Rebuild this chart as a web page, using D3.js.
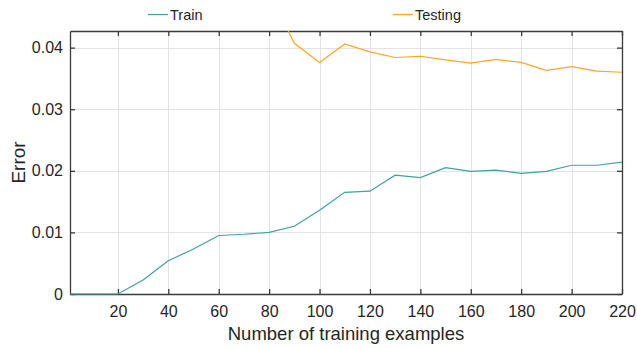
<!DOCTYPE html>
<html><head><meta charset="utf-8">
<script src="https://cdn.jsdelivr.net/npm/d3@7"></script>
<style>body{margin:0;background:#fff}svg{display:block;font-family:"Liberation Sans",Arial,sans-serif}</style>
</head><body><svg id="c" width="637" height="348"></svg>
<script>
const trainX = [1, 10, 20, 30, 40, 50, 60, 70, 80, 90, 100, 110, 120, 130, 140, 150, 160, 170, 180, 190, 200, 210, 220];
const trainY = [0, 0, 0, 0.00227, 0.0054, 0.0073, 0.0095, 0.0097, 0.0100, 0.0110, 0.0136, 0.0165, 0.0167, 0.0193, 0.0189, 0.0205, 0.0199, 0.0201, 0.0196, 0.0199, 0.0209, 0.0209, 0.0214];
const testX = [80, 90, 100, 110, 120, 130, 140, 150, 160, 170, 180, 190, 200, 210, 220];
const testY = [0.0490, 0.0407, 0.0376, 0.0406, 0.0393, 0.0384, 0.0386, 0.0380, 0.0375, 0.0381, 0.0376, 0.0363, 0.0369, 0.0362, 0.0360];
const xTicks = [20, 40, 60, 80, 100, 120, 140, 160, 180, 200, 220];
const yTicks = [0, 0.01, 0.02, 0.03, 0.04];
const seriesNames = ["Train", "Testing"];
const colors = ["#3fa29c", "#ffa51f"];

(function () {
const L = 70, R = 622, T = 31, B = 294;
const svg = d3.select("#c");
const x = d3.scaleLinear().domain([1, 220]).range([L, R]);
const y = d3.scaleLinear().domain([0, 0.0427]).range([B, T]);

// grid
const g = svg.append("g");
g.selectAll(".gx").data(xTicks).join("line")
  .attr("x1", d => Math.round(x(d)) + 0.5).attr("x2", d => Math.round(x(d)) + 0.5)
  .attr("y1", T).attr("y2", B).attr("stroke", "#e3e3e3").attr("stroke-width", 1);
g.selectAll(".gy").data(yTicks).join("line")
  .attr("y1", d => Math.round(y(d)) + 0.5).attr("y2", d => Math.round(y(d)) + 0.5)
  .attr("x1", L).attr("x2", R).attr("stroke", "#e3e3e3").attr("stroke-width", 1);

// axes
const axCol = "#3a3a3a";
const fmtY = d => d === 0 ? "0" : d3.format(".2f")(d);
const axB = svg.append("g").attr("transform", `translate(0,${B})`)
  .call(d3.axisBottom(x).tickValues(xTicks).tickSizeInner(-5).tickSizeOuter(0).tickPadding(12));
const axT = svg.append("g").attr("transform", `translate(0,${T})`)
  .call(d3.axisTop(x).tickValues(xTicks).tickSizeInner(-5).tickSizeOuter(0).tickFormat(""));
const axL = svg.append("g").attr("transform", `translate(${L},0)`)
  .call(d3.axisLeft(y).tickValues(yTicks).tickSizeInner(-5).tickSizeOuter(0).tickPadding(7).tickFormat(fmtY));
const axR = svg.append("g").attr("transform", `translate(${R},0)`)
  .call(d3.axisRight(y).tickValues(yTicks).tickSizeInner(-5).tickSizeOuter(0).tickFormat(""));
[axB, axT, axL, axR].forEach(a => {
  a.selectAll("path").attr("stroke", axCol).attr("stroke-width", 1.3);
  a.selectAll("line").attr("stroke", axCol).attr("stroke-width", 1.3);
  a.selectAll("text").attr("fill", "#262626").attr("font-size", 16)
    .attr("font-family", "'Liberation Sans', Arial, sans-serif");
});

// clip + lines (drawn over axes)
svg.append("clipPath").attr("id", "clip").append("rect")
  .attr("x", L).attr("y", T).attr("width", R - L).attr("height", B - T + 2);

const line = d3.line().x(d => x(d[0])).y(d => y(d[1]));
const trainData = trainX.map((v, i) => [v, trainY[i]]);
const testData = testX.map((v, i) => [v, testY[i]]);
svg.append("path").datum(trainData).attr("d", line).attr("fill", "none")
  .attr("stroke", colors[0]).attr("stroke-width", 1.2).attr("clip-path", "url(#clip)");
svg.append("path").datum(testData).attr("d", line).attr("fill", "none")
  .attr("stroke", colors[1]).attr("stroke-width", 1.2).attr("clip-path", "url(#clip)");

// labels
svg.append("text").attr("x", (L + R) / 2).attr("y", 340).attr("text-anchor", "middle")
  .attr("font-size", 18.5).attr("fill", "#262626").text("Number of training examples");
svg.append("text").attr("transform", `translate(25,${(T + B) / 2}) rotate(-90)`)
  .attr("text-anchor", "middle").attr("font-size", 19).attr("fill", "#262626").text("Error");

// legend
const legX = [148, 393];
seriesNames.forEach((n, i) => {
  svg.append("line").attr("x1", legX[i]).attr("x2", legX[i] + 20).attr("y1", 14.5).attr("y2", 14.5)
    .attr("stroke", colors[i]).attr("stroke-width", 1.2);
  svg.append("text").attr("x", legX[i] + 22).attr("y", 20).attr("font-size", 14.5)
    .attr("fill", "#262626").text(n);
});
})();
</script></body></html>
